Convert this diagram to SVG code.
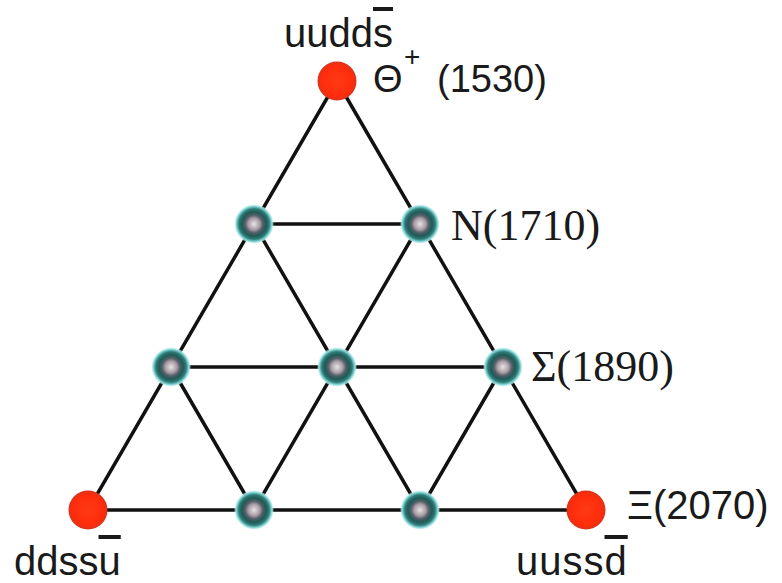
<svg xmlns="http://www.w3.org/2000/svg" width="782" height="583" viewBox="0 0 782 583">
<defs>
<radialGradient id="gRed" cx="0.5" cy="0.5" r="0.5">
<stop offset="0" stop-color="#ff3a14"/>
<stop offset="0.8" stop-color="#ff2c0c"/>
<stop offset="1" stop-color="#d8341c"/>
</radialGradient>
<radialGradient id="gTeal" cx="0.5" cy="0.5" r="0.5">
<stop offset="0" stop-color="#e8e4e6"/>
<stop offset="0.3" stop-color="#a89ca4"/>
<stop offset="0.45" stop-color="#56606a"/>
<stop offset="0.62" stop-color="#1f5a56"/>
<stop offset="0.78" stop-color="#2f7c78"/>
<stop offset="0.9" stop-color="#7fd3d3"/>
<stop offset="1" stop-color="#d6f4f4" stop-opacity="0.6"/>
</radialGradient>
<circle id="red" r="19.5" fill="url(#gRed)"/>
<circle id="teal" r="19.5" fill="url(#gTeal)"/>
</defs>
<style>
.edge{stroke:#111;stroke-width:3.5;stroke-linecap:round;fill:none}
.sans{font-family:"Liberation Sans",Arial,sans-serif;fill:#1a1a1a}
.serif{font-family:"Liberation Serif","Times New Roman",serif;fill:#1a1a1a}
.bar{text-decoration:overline}
</style>
<rect width="782" height="583" fill="#ffffff"/>
<g id="connectors">
<line class="edge" x1="337" y1="81" x2="88" y2="510"/>
<line class="edge" x1="337" y1="81" x2="586" y2="510"/>
<line class="edge" x1="88" y1="510" x2="586" y2="510"/>
<line class="edge" x1="254" y1="224" x2="420" y2="224"/>
<line class="edge" x1="171" y1="367" x2="503" y2="367"/>
<line class="edge" x1="420" y1="224" x2="254" y2="510"/>
<line class="edge" x1="503" y1="367" x2="420" y2="510"/>
<line class="edge" x1="254" y1="224" x2="420" y2="510"/>
<line class="edge" x1="171" y1="367" x2="254" y2="510"/>
</g>
<g id="theta"><use href="#red" x="337" y="81"/></g>
<g id="n1"><use href="#teal" x="254" y="224"/></g>
<g id="n2"><use href="#teal" x="420" y="224"/></g>
<g id="s1"><use href="#teal" x="171" y="367"/></g>
<g id="s2"><use href="#teal" x="337" y="367"/></g>
<g id="s3"><use href="#teal" x="503" y="367"/></g>
<g id="xi1"><use href="#red" x="88" y="510"/></g>
<g id="x2"><use href="#teal" x="254" y="510"/></g>
<g id="x3"><use href="#teal" x="420" y="510"/></g>
<g id="xi2"><use href="#red" x="586" y="510"/></g>
<g id="labels">
<text class="sans" x="284" y="47" font-size="40">uudd<tspan class="bar">s</tspan></text>
<text class="sans" x="373" y="92" font-size="38">Θ</text>
<text class="sans" x="404" y="66" font-size="28">+</text>
<text class="sans" x="437" y="92" font-size="38">(1530)</text>
<text class="serif" x="451" y="240" font-size="44">N(1710)</text>
<text class="serif" x="531" y="381" font-size="44">Σ(1890)</text>
<text class="sans" x="627" y="519" font-size="40">Ξ(2070)</text>
<text class="sans" x="14" y="575" font-size="40">ddss<tspan class="bar">u</tspan></text>
<text class="sans" x="516" y="575" font-size="40" letter-spacing="1">uuss<tspan class="bar">d</tspan></text>
</g>
</svg>
